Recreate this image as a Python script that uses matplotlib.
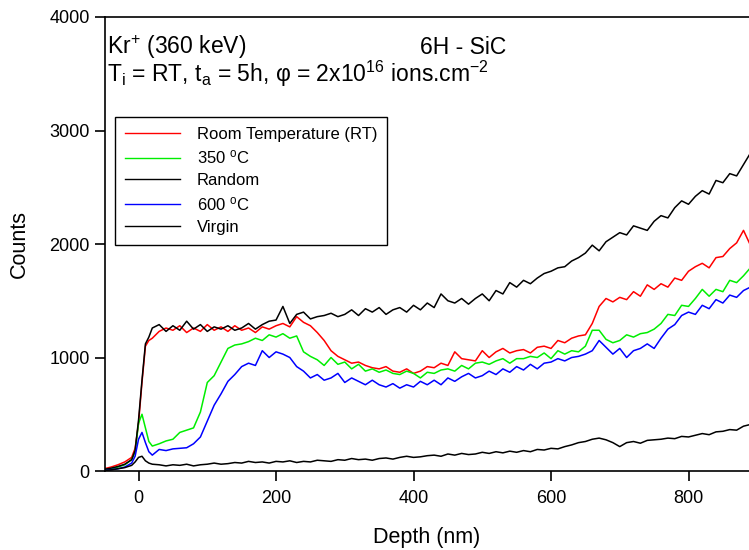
import numpy as np
from matplotlib import pyplot as plt

plt.rcParams['font.family'] = ['Liberation Sans', 'DejaVu Sans']
plt.rcParams['mathtext.fontset'] = 'custom'
plt.rcParams['mathtext.rm'] = 'Liberation Sans'
plt.rcParams['mathtext.it'] = 'Liberation Sans:italic'

# depth grid (nm), finer near the surface
depth = [-50, -40, -30, -20, -10, -5, 0, 5, 10, 15, 20] + list(range(30, 891, 10))

random_ = [15, 25, 40, 60, 100, 180, 450, 800, 1120, 1180, 1260,
           1290, 1230, 1280, 1240, 1320, 1250, 1290, 1230, 1270, 1250,
           1280, 1240, 1260, 1300, 1250, 1290, 1320, 1330, 1450, 1300,
           1380, 1400, 1340, 1360, 1370, 1390, 1360, 1380, 1420, 1370,
           1430, 1400, 1440, 1380, 1420, 1440, 1400, 1460, 1420, 1480,
           1440, 1560, 1500, 1480, 1520, 1470, 1520, 1560, 1500, 1590,
           1560, 1660, 1620, 1680, 1650, 1700, 1740, 1760, 1790, 1800,
           1850, 1880, 1920, 1990, 1940, 2020, 2060, 2100, 2080, 2160,
           2140, 2120, 2200, 2250, 2230, 2320, 2380, 2350, 2420, 2470,
           2440, 2560, 2540, 2620, 2600, 2700, 2800]

rt = [20, 35, 55, 80, 120, 200, 420, 780, 1100, 1150, 1170,
      1230, 1260, 1240, 1280, 1220, 1260, 1230, 1290, 1240, 1270,
      1230, 1280, 1240, 1260, 1220, 1270, 1250, 1280, 1300, 1270,
      1360, 1310, 1280, 1220, 1150, 1060, 1010, 980, 950, 960,
      930, 910, 900, 920, 880, 870, 900, 860, 880, 920,
      910, 950, 930, 1050, 990, 980, 970, 1060, 1000, 1050,
      1080, 1040, 1060, 1070, 1040, 1090, 1100, 1080, 1150, 1130,
      1170, 1190, 1200, 1300, 1450, 1520, 1490, 1530, 1510, 1580,
      1540, 1640, 1600, 1650, 1620, 1700, 1680, 1760, 1800, 1830,
      1790, 1880, 1890, 1960, 2010, 2120, 1990]

c350 = [10, 20, 35, 55, 100, 170, 420, 500, 380, 260, 220,
        240, 265, 280, 340, 360, 380, 520, 780, 840, 960,
        1080, 1110, 1120, 1140, 1170, 1150, 1200, 1180, 1210, 1170,
        1190, 1050, 1010, 980, 930, 1000, 940, 960, 900, 940,
        880, 900, 870, 890, 860, 850, 880, 860, 820, 870,
        860, 890, 900, 880, 930, 900, 950, 960, 940, 970,
        990, 950, 990, 990, 1010, 1000, 1040, 990, 1060, 1030,
        1060, 1050, 1100, 1240, 1240, 1160, 1130, 1150, 1200, 1180,
        1210, 1220, 1250, 1300, 1380, 1370, 1460, 1450, 1520, 1600,
        1540, 1600, 1580, 1680, 1660, 1720, 1790]

c600 = [5, 12, 20, 35, 70, 130, 280, 340, 250, 170, 140,
        190, 180, 195, 200, 205, 240, 300, 440, 580, 680,
        790, 850, 920, 950, 930, 1060, 1000, 1050, 1030, 1000,
        920, 880, 820, 850, 800, 820, 860, 780, 820, 790,
        760, 800, 760, 740, 770, 730, 760, 740, 790, 760,
        800, 760, 820, 790, 830, 860, 820, 840, 880, 850,
        900, 870, 920, 890, 940, 900, 950, 960, 990, 970,
        1000, 1010, 1030, 1060, 1150, 1090, 1030, 1080, 1000, 1060,
        1080, 1120, 1080, 1170, 1250, 1290, 1370, 1400, 1380, 1460,
        1430, 1510, 1480, 1550, 1530, 1590, 1620]

virgin = [5, 10, 20, 30, 50, 80, 120, 130, 90, 70, 60,
          55, 45, 55, 50, 60, 45, 55, 60, 70, 60,
          65, 75, 70, 85, 75, 80, 70, 85, 80, 90,
          75, 85, 80, 95, 90, 85, 100, 95, 110, 100,
          105, 95, 110, 115, 105, 120, 130, 120, 125, 135,
          140, 130, 150, 140, 155, 145, 150, 165, 155, 170,
          160, 175, 165, 180, 170, 190, 185, 200, 195, 215,
          230, 250, 260, 280, 290, 275, 250, 215, 250, 260,
          245, 270, 275, 280, 290, 285, 305, 300, 315, 330,
          320, 345, 350, 365, 360, 395, 410]

series = [
    (rt, '#ff0000', 'Room Temperature (RT)'),
    (c350, '#00ee00', '350 $^{\\mathrm{o}}$C'),
    (random_, 'black', 'Random'),
    (c600, '#0000ff', '600 $^{\\mathrm{o}}$C'),
    (virgin, 'black', 'Virgin'),
]

fig = plt.figure(figsize=(7.49, 5.5), dpi=100)
ax = fig.add_axes([0.140, 0.1436, 0.860, 0.8255])

for vals, col, lab in series:
    ax.plot(depth, vals, color=col, lw=1.1, label=lab)

ax.set_xlim(-49, 888)
ax.set_ylim(0, 4000)
ax.set_xticks([0, 200, 400, 600, 800])
ax.set_yticks([0, 1000, 2000, 3000, 4000])
ax.tick_params(direction='out', length=7, width=1.2, labelsize=13)
ax.tick_params(axis='y', pad=4)
ax.tick_params(axis='x', pad=7)
ax.spines['right'].set_visible(False)
for s in ['left', 'top', 'bottom']:
    ax.spines[s].set_linewidth(1.2)

ax.set_xlabel('Depth (nm)', fontsize=15.5, labelpad=14)
ax.set_ylabel('Counts', fontsize=15.5, labelpad=14)

ax.text(0.003, 0.919, 'Kr$^{+}$ (360 keV)', transform=ax.transAxes,
        fontsize=16.5, va='baseline')
ax.text(0.490, 0.919, '6H - SiC', transform=ax.transAxes,
        fontsize=16.5, va='baseline')
ax.text(0.003, 0.857,
        'T$_{\\mathrm{i}}$ = RT, t$_{\\mathrm{a}}$ = 5h, φ = 2x10$^{16}$ ions.cm$^{-2}$',
        transform=ax.transAxes, fontsize=16.5, va='baseline')

leg = ax.legend(loc='upper left', bbox_to_anchor=(0.0155, 0.78),
                borderaxespad=0, fontsize=12, handlelength=3.3,
                fancybox=False, framealpha=1, edgecolor='black',
                labelspacing=0.4, borderpad=0.6, handletextpad=1.0)
leg.get_frame().set_linewidth(1.0)
for l in leg.get_lines():
    l.set_linewidth(1.0)

fig.savefig('out.png', dpi=100)
